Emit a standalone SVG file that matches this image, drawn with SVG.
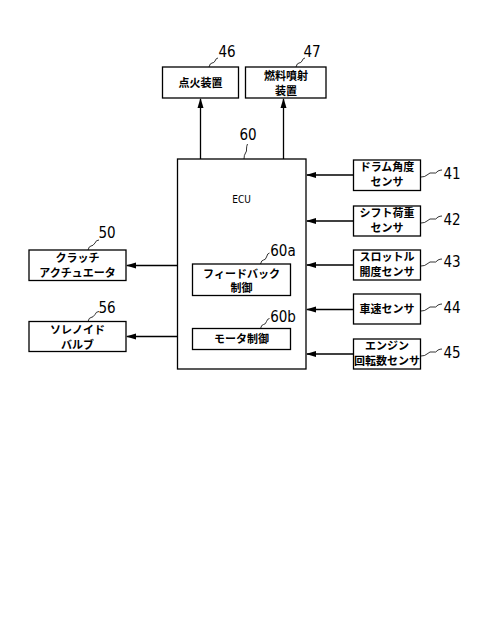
<svg xmlns="http://www.w3.org/2000/svg" width="480" height="621" viewBox="0 0 480 621">
<defs>
<marker id="ah" markerWidth="10" markerHeight="8" refX="9" refY="4" orient="auto" markerUnits="userSpaceOnUse">
<path d="M0,1 L10,4 L0,7 Z" fill="#000"/>
</marker>
<style>
.box{fill:#fff;stroke:#000;stroke-width:1.3}
.jp{font-family:"Noto Sans CJK JP","Noto Sans",sans-serif;font-size:11px;font-weight:bold;text-anchor:middle;fill:#000}
.num{font-family:"DejaVu Sans Condensed","Liberation Sans",sans-serif;font-size:15px;text-anchor:middle;fill:#000;font-stretch:condensed}
.lead{fill:none;stroke:#000;stroke-width:0.8}
.con{fill:none;stroke:#000;stroke-width:1.3;marker-end:url(#ah)}
</style>
</defs>
<rect width="480" height="621" fill="#fff"/>
<g id="connectors">
<line class="con" x1="200.5" y1="159" x2="200.5" y2="99"/>
<line class="con" x1="283.5" y1="159" x2="283.5" y2="99"/>
<line class="con" x1="353" y1="175" x2="307" y2="175"/>
<line class="con" x1="353" y1="221" x2="307" y2="221"/>
<line class="con" x1="353" y1="265" x2="307" y2="265"/>
<line class="con" x1="353" y1="309.5" x2="307" y2="309.5"/>
<line class="con" x1="353" y1="354" x2="307" y2="354"/>
<line class="con" x1="177.5" y1="265.5" x2="127" y2="265.5"/>
<line class="con" x1="177.5" y1="336.5" x2="127" y2="336.5"/>
</g>
<g id="n46">
<rect class="box" x="162.5" y="67" width="76" height="31"/>
<text class="jp" x="200.5" y="87">点火装置</text>
<path class="lead" d="M209,67 q1,-4 3,-4 q2,0 3,-2 q1,-3 3,-3"/>
<text class="num" x="227" y="57">46</text>
</g>
<g id="n47">
<rect class="box" x="245.5" y="67" width="80.5" height="31"/>
<text class="jp" x="286" y="79.5">燃料噴射</text>
<text class="jp" x="286" y="94.5">装置</text>
<path class="lead" d="M296,67 q1,-4 3,-4 q2,0 3,-2 q1,-3 3,-3"/>
<text class="num" x="312" y="57">47</text>
</g>
<g id="n60">
<rect class="box" x="177.5" y="159" width="128.5" height="210"/>
<text x="241.5" y="203" style="font-family:'DejaVu Sans Condensed','Liberation Sans',sans-serif;font-size:10px;text-anchor:middle;font-stretch:condensed">ECU</text>
<path class="lead" d="M244,159 q0,-4 1.5,-6 q1.5,-2 1,-4 q0,-3 1,-5"/>
<text class="num" x="248" y="140">60</text>
</g>
<g id="n60a">
<rect class="box" x="192.5" y="264" width="98" height="31.5"/>
<text class="jp" x="241.5" y="277.5">フィードバック</text>
<text class="jp" x="241.5" y="292">制御</text>
<path class="lead" d="M260.5,264 q1,-4 3,-4 q2,0 3,-3 q1,-4 3,-4"/>
<text class="num" x="283" y="256">60a</text>
</g>
<g id="n60b">
<rect class="box" x="192.5" y="328.5" width="98" height="21"/>
<text class="jp" x="241.5" y="343">モータ制御</text>
<path class="lead" d="M260.5,328.5 q1,-4 3,-4 q2,0 3,-3 q1,-3 3,-3"/>
<text class="num" x="283" y="322">60b</text>
</g>
<g id="n41">
<rect class="box" x="353.5" y="160" width="67" height="30.5"/>
<text class="jp" x="387" y="171">ドラム角度</text>
<text class="jp" x="387" y="186">センサ</text>
<path class="lead" d="M421,177 q4,0 6,-2 q3,-3 6,-2 q3,1 5,-2 q2,-1 4,-1"/>
<text class="num" x="452" y="178.5">41</text>
</g>
<g id="n42">
<rect class="box" x="353.5" y="206" width="67" height="30"/>
<text class="jp" x="387" y="217">シフト荷重</text>
<text class="jp" x="387" y="232">センサ</text>
<path class="lead" d="M421,223 q4,0 6,-2 q3,-3 6,-2 q3,1 5,-2 q2,-1 4,-1"/>
<text class="num" x="452" y="225">42</text>
</g>
<g id="n43">
<rect class="box" x="353.5" y="250" width="67" height="30"/>
<text class="jp" x="387" y="261">スロットル</text>
<text class="jp" x="387" y="276">開度センサ</text>
<path class="lead" d="M421,266 q4,0 6,-2 q3,-3 6,-2 q3,1 5,-2 q2,-1 4,-1"/>
<text class="num" x="452" y="267">43</text>
</g>
<g id="n44">
<rect class="box" x="353.5" y="294" width="67" height="30"/>
<text class="jp" x="387" y="313">車速センサ</text>
<path class="lead" d="M421,311 q4,0 6,-2 q3,-3 6,-2 q3,1 5,-2 q2,-1 4,-1"/>
<text class="num" x="452" y="313">44</text>
</g>
<g id="n45">
<rect class="box" x="353.5" y="339" width="67" height="30"/>
<text class="jp" x="387" y="350">エンジン</text>
<text class="jp" x="387" y="365">回転数センサ</text>
<path class="lead" d="M421,356 q4,0 6,-2 q3,-3 6,-2 q3,1 5,-2 q2,-1 4,-1"/>
<text class="num" x="452" y="358">45</text>
</g>
<g id="n50">
<rect class="box" x="29" y="250" width="97" height="30.5"/>
<text class="jp" x="77.5" y="262">クラッチ</text>
<text class="jp" x="77.5" y="276.5">アクチュエータ</text>
<path class="lead" d="M88,250 q1,-4 3,-4 q2,0 4,-3 q1,-3 4,-3"/>
<text class="num" x="107" y="238">50</text>
</g>
<g id="n56">
<rect class="box" x="29" y="321.5" width="97" height="30"/>
<text class="jp" x="77.5" y="334">ソレノイド</text>
<text class="jp" x="77.5" y="349">バルブ</text>
<path class="lead" d="M88,321.5 q1,-4 3,-4 q2,0 4,-3 q1,-3 4,-3"/>
<text class="num" x="107" y="313">56</text>
</g>
</svg>
